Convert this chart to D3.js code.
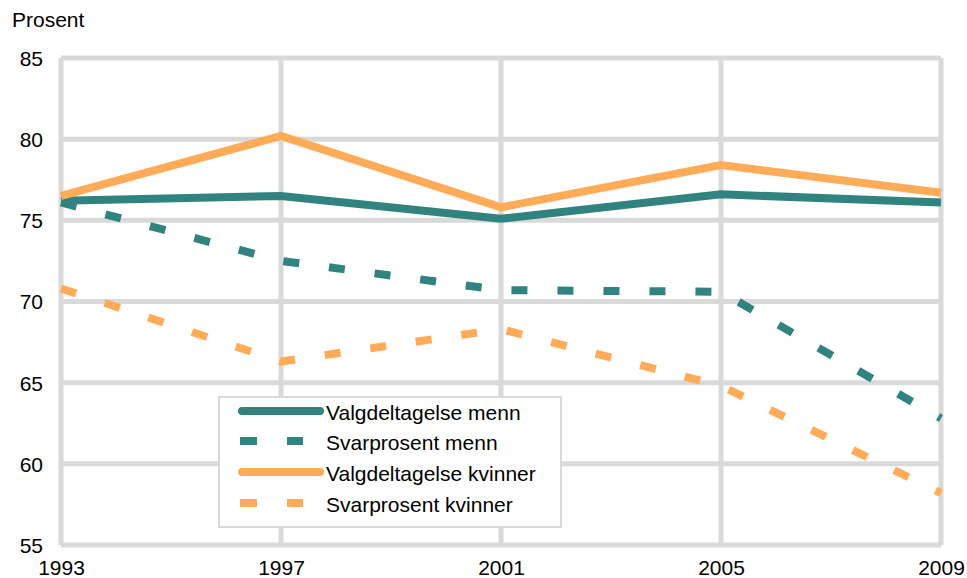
<!DOCTYPE html>
<html><head><meta charset="utf-8">
<script src="https://cdn.jsdelivr.net/npm/d3@7/dist/d3.min.js"></script>
<style>body{margin:0;background:#fff;} svg{display:block;font-family:"Liberation Sans",Arial,sans-serif;}</style>
</head><body>
<svg id="c" width="967" height="578"></svg>
<script>
const years = [1993, 1997, 2001, 2005, 2009];
const valgMenn = [76.2, 76.5, 75.1, 76.6, 76.1];
const svarMenn = [76.1, 72.5, 70.7, 70.6, 62.8];
const valgKvinner = [76.5, 80.2, 75.8, 78.4, 76.7];
const svarKvinner = [70.8, 66.3, 68.3, 64.8, 58.2];
const yTicks = [55, 60, 65, 70, 75, 80, 85];
const seriesNames = ["Valgdeltagelse menn", "Svarprosent menn", "Valgdeltagelse kvinner", "Svarprosent kvinner"];

const teal = "#31837f", orange = "#ffab58", grid = "#d9d9d9";
const FS = 21;
const series = [
  {name: seriesNames[0], values: valgMenn, color: teal, dash: null},
  {name: seriesNames[1], values: svarMenn, color: teal, dash: "16,30"},
  {name: seriesNames[2], values: valgKvinner, color: orange, dash: null},
  {name: seriesNames[3], values: svarKvinner, color: orange, dash: "16,30"}
];

const svg = d3.select("#c");
const x = d3.scaleLinear().domain([1993, 2009]).range([61, 941]);
const y = d3.scaleLinear().domain([55, 85]).range([545, 58]);

// grid
svg.append("g").selectAll("line.h").data(yTicks).join("line")
  .attr("x1", x(1993)).attr("x2", x(2009)).attr("y1", d => y(d)).attr("y2", d => y(d))
  .attr("stroke", grid).attr("stroke-width", 5);
svg.append("g").selectAll("line.v").data(years).join("line")
  .attr("y1", y(85)).attr("y2", y(55)).attr("x1", d => x(d)).attr("x2", d => x(d))
  .attr("stroke", grid).attr("stroke-width", 5);

// axes labels
const yAxis = d3.axisLeft(y).tickValues(yTicks).tickSize(0).tickPadding(0);
const ga = svg.append("g").attr("transform", "translate(43,0)").call(yAxis);
ga.select(".domain").remove();
ga.selectAll("text").attr("font-size", FS).attr("fill", "#000").attr("font-family", "Liberation Sans, Arial, sans-serif").attr("dy", "0.35em");

const xAxis = d3.axisBottom(x).tickValues(years).tickFormat(d3.format("d")).tickSize(0).tickPadding(0);
const gx = svg.append("g").attr("transform", "translate(0,560)").call(xAxis);
gx.select(".domain").remove();
gx.selectAll("text").attr("font-size", FS).attr("fill", "#000").attr("font-family", "Liberation Sans, Arial, sans-serif").attr("dy", "0.71em");

svg.append("text").attr("x", 12).attr("y", 27).attr("font-size", FS).text("Prosent");

// lines
const line = d3.line().x((d, i) => x(years[i])).y(d => y(d));
svg.append("g").selectAll("path").data(series).join("path")
  .attr("d", d => line(d.values))
  .attr("fill", "none").attr("stroke", d => d.color).attr("stroke-width", 8)
  .attr("stroke-dasharray", d => d.dash).attr("stroke-linejoin", "miter");

// legend
const lg = svg.append("g");
lg.append("rect").attr("x", 219).attr("y", 397).attr("width", 342).attr("height", 130)
  .attr("fill", "#fff").attr("stroke", grid).attr("stroke-width", 2);
const rowsY = [411, 441, 472, 503];
const items = lg.selectAll("g.it").data(series).join("g").attr("transform", (d, i) => `translate(0,${rowsY[i]})`);
items.append("line").attr("x1", d => d.dash ? 240 : 242).attr("x2", d => d.dash ? 303 : 320)
  .attr("stroke", d => d.color).attr("stroke-width", 8)
  .attr("stroke-linecap", d => d.dash ? "butt" : "round")
  .attr("stroke-dasharray", d => d.dash ? "17,30" : null);
items.append("text").attr("x", 326).attr("y", 2).attr("dy", "0.35em").attr("font-size", FS).text(d => d.name);
</script>
</body></html>
